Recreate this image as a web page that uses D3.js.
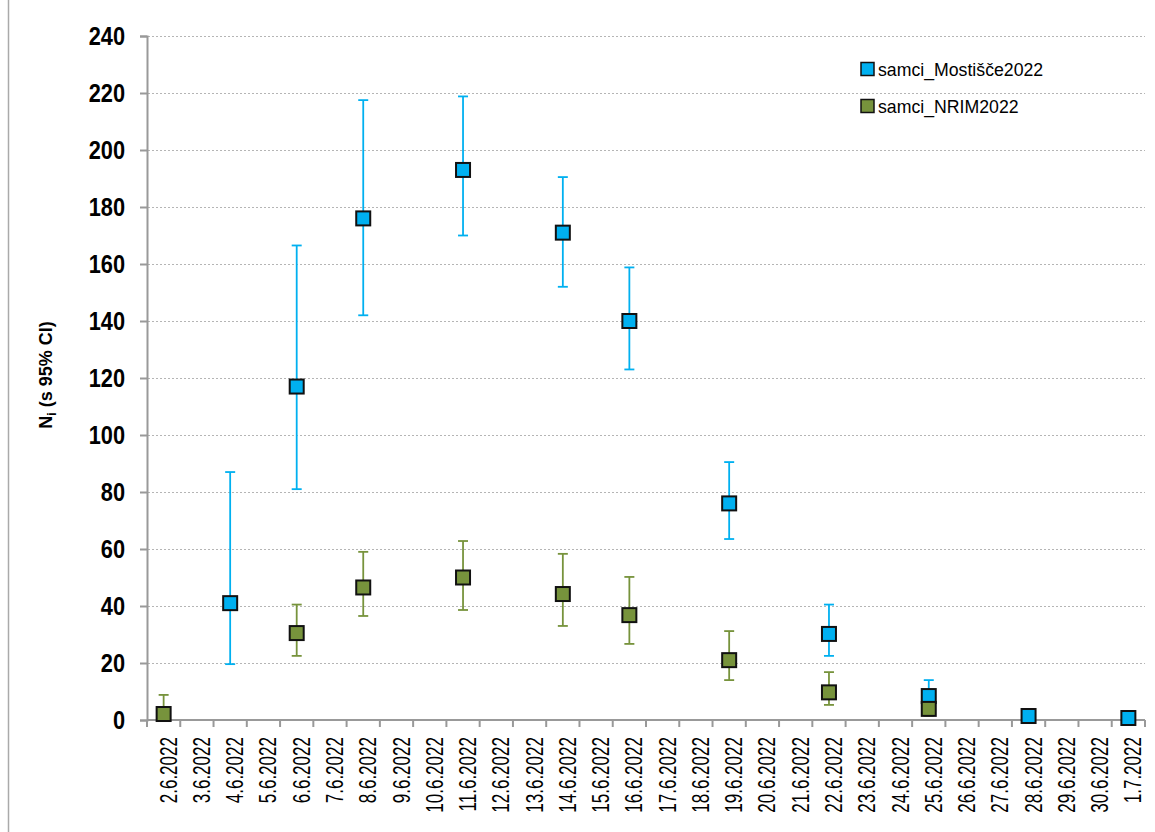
<!DOCTYPE html>
<html>
<head>
<meta charset="utf-8">
<script src="https://cdn.jsdelivr.net/npm/d3@7"></script>
<style>
  html, body { margin: 0; padding: 0; background: #fff; }
  svg { display: block; }
</style>
</head>
<body>
<svg id="chart" width="1155" height="832"></svg>
<script>
// Sampling dates on the category axis
const categories = [
  '2.6.2022', '3.6.2022', '4.6.2022', '5.6.2022', '6.6.2022', '7.6.2022',
  '8.6.2022', '9.6.2022', '10.6.2022', '11.6.2022', '12.6.2022', '13.6.2022',
  '14.6.2022', '15.6.2022', '16.6.2022', '17.6.2022', '18.6.2022', '19.6.2022',
  '20.6.2022', '21.6.2022', '22.6.2022', '23.6.2022', '24.6.2022', '25.6.2022',
  '26.6.2022', '27.6.2022', '28.6.2022', '29.6.2022', '30.6.2022', '1.7.2022'
];

// Y axis ticks
const yTicks = [0, 20, 40, 60, 80, 100, 120, 140, 160, 180, 200, 220, 240];

// samci_Mostišče2022: estimate N with 95% CI
const mostisceDates = ['4.6.2022', '6.6.2022', '8.6.2022', '11.6.2022', '14.6.2022', '16.6.2022',
                       '19.6.2022', '22.6.2022', '25.6.2022', '28.6.2022', '1.7.2022'];
const mostisceN    = [41, 117, 176, 193, 171, 140, 76, 30.2, 8.4, 1.4, 0.7];
const mostisceLow  = [19.6, 81, 142, 170, 152, 123, 63.5, 22.5, 4.5, 0.5, 0.2];
const mostisceHigh = [87, 166.5, 217.5, 218.8, 190.5, 158.8, 90.5, 40.5, 14, 3, 2];

// samci_NRIM2022: estimate N with 95% CI
const nrimDates = ['2.6.2022', '6.6.2022', '8.6.2022', '11.6.2022', '14.6.2022', '16.6.2022',
                   '19.6.2022', '22.6.2022', '25.6.2022'];
const nrimN    = [2.1, 30.5, 46.5, 50, 44.2, 36.8, 21, 9.7, 3.9];
const nrimLow  = [0.5, 22.5, 36.5, 38.6, 33, 26.7, 14, 5.3, 1.5];
const nrimHigh = [8.8, 40.5, 59, 62.8, 58.3, 50.2, 31.2, 16.8, 6.5];

const seriesNames = ['samci_Mostišče2022', 'samci_NRIM2022'];
const seriesColors = ['#00B0F0', '#77933C'];

const series = [
  { name: seriesNames[0], color: seriesColors[0],
    points: mostisceDates.map((d, i) => ({ d, n: mostisceN[i], lo: mostisceLow[i], hi: mostisceHigh[i] })) },
  { name: seriesNames[1], color: seriesColors[1],
    points: nrimDates.map((d, i) => ({ d, n: nrimN[i], lo: nrimLow[i], hi: nrimHigh[i] })) }
];

const svg = d3.select('#chart');
const axisColor = '#999';
const plot = { left: 147, right: 1145, top: 36, bottom: 720 };

const x = d3.scaleBand().domain(categories).range([plot.left, plot.right]).padding(0);
const y = d3.scaleLinear().domain([0, 240]).range([plot.bottom, plot.top]);
const cx = d => x(d) + x.bandwidth() / 2;

// Outer chart frame (left edge)
svg.append('line')
  .attr('x1', 8.5).attr('x2', 8.5).attr('y1', 0).attr('y2', 832)
  .attr('stroke', '#aaa').attr('stroke-width', 1.5);

// Dotted horizontal gridlines
svg.append('g').selectAll('line')
  .data(yTicks.filter(t => t > 0))
  .join('line')
  .attr('x1', plot.left + 1).attr('x2', plot.right)
  .attr('y1', d => Math.round(y(d)) + 0.5).attr('y2', d => Math.round(y(d)) + 0.5)
  .attr('stroke', '#b5b5b5').attr('stroke-width', 1)
  .attr('stroke-dasharray', '2,2');

// Y axis
const yAxis = d3.axisLeft(y).tickValues(yTicks).tickSize(7).tickPadding(0).tickFormat('');
const yg = svg.append('g').attr('transform', `translate(${plot.left},0)`).call(yAxis);
yg.select('.domain').attr('stroke', axisColor).attr('stroke-width', 2);
yg.selectAll('.tick line').attr('stroke', axisColor).attr('stroke-width', 2);

// Y tick labels (bold, condensed)
svg.append('g').selectAll('text')
  .data(yTicks)
  .join('text')
  .attr('transform', d => `translate(125,${y(d) + 9}) scale(0.87,1)`)
  .attr('text-anchor', 'end')
  .attr('font-family', 'Liberation Sans, Arial, sans-serif')
  .attr('font-weight', 'bold')
  .attr('font-size', 25)
  .attr('fill', '#000')
  .text(d => d);

// X axis with ticks on category boundaries
const xg = svg.append('g');
xg.append('line')
  .attr('x1', plot.left).attr('x2', plot.right)
  .attr('y1', plot.bottom).attr('y2', plot.bottom)
  .attr('stroke', axisColor).attr('stroke-width', 2);
const boundaries = categories.map(c => x(c)).concat([x(categories[categories.length - 1]) + x.bandwidth()]);
xg.selectAll('line.tick')
  .data(boundaries)
  .join('line')
  .attr('class', 'tick')
  .attr('x1', d => d).attr('x2', d => d)
  .attr('y1', plot.bottom).attr('y2', plot.bottom + 7)
  .attr('stroke', axisColor).attr('stroke-width', 2);

// X labels, rotated
svg.append('g').selectAll('text')
  .data(categories)
  .join('text')
  .attr('transform', d => `translate(${cx(d) + 13},737) rotate(-90) scale(0.71,1)`)
  .attr('text-anchor', 'end')
  .attr('font-family', 'Liberation Sans, Arial, sans-serif')
  .attr('font-size', 24)
  .attr('fill', '#000')
  .text(d => d);

// Y axis title
const title = svg.append('text')
  .attr('transform', 'translate(52,375) rotate(-90)')
  .attr('text-anchor', 'middle')
  .attr('font-family', 'Liberation Sans, Arial, sans-serif')
  .attr('font-weight', 'bold')
  .attr('font-size', 18)
  .attr('fill', '#000');
title.append('tspan').text('N');
title.append('tspan').attr('font-size', 12).attr('dy', 4).text('i');
title.append('tspan').attr('dy', -4).text(' (s 95% CI)');

// Error bars
const capHalf = 5;
series.forEach(s => {
  const g = svg.append('g').attr('stroke', s.color).attr('stroke-width', 1.8);
  g.selectAll('line.whisker').data(s.points).join('line')
    .attr('class', 'whisker')
    .attr('x1', p => cx(p.d)).attr('x2', p => cx(p.d))
    .attr('y1', p => y(p.lo)).attr('y2', p => y(p.hi));
  g.selectAll('line.capHi').data(s.points).join('line')
    .attr('class', 'capHi')
    .attr('x1', p => cx(p.d) - capHalf).attr('x2', p => cx(p.d) + capHalf)
    .attr('y1', p => y(p.hi)).attr('y2', p => y(p.hi));
  g.selectAll('line.capLo').data(s.points).join('line')
    .attr('class', 'capLo')
    .attr('x1', p => cx(p.d) - capHalf).attr('x2', p => cx(p.d) + capHalf)
    .attr('y1', p => y(p.lo)).attr('y2', p => y(p.lo));
});

// Square markers
const ms = 14;
series.forEach(s => {
  svg.append('g').selectAll('rect').data(s.points).join('rect')
    .attr('x', p => cx(p.d) - ms / 2).attr('y', p => y(p.n) - ms / 2)
    .attr('width', ms).attr('height', ms)
    .attr('fill', s.color).attr('stroke', '#111').attr('stroke-width', 2);
});

// Legend
const legend = svg.append('g');
series.forEach((s, i) => {
  const ly = 69 + i * 37;
  legend.append('rect')
    .attr('x', 861).attr('y', ly - 6.5).attr('width', 13).attr('height', 13)
    .attr('fill', s.color).attr('stroke', '#111').attr('stroke-width', 1.5);
  legend.append('text')
    .attr('x', 878).attr('y', ly + 7)
    .attr('font-family', 'Liberation Sans, Arial, sans-serif')
    .attr('font-size', 17.7)
    .attr('fill', '#000')
    .text(s.name);
});
</script>
</body>
</html>
